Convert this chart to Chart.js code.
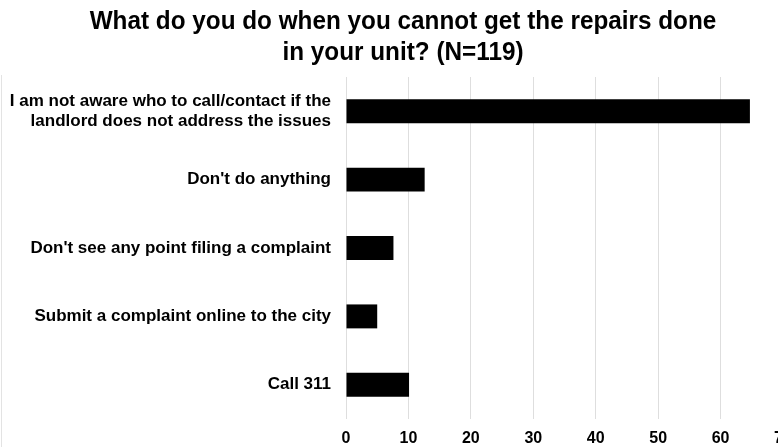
<!DOCTYPE html>
<html>
<head>
<meta charset="utf-8">
<script src="https://cdn.jsdelivr.net/npm/chart.js"></script>
<style>
  html, body { margin: 0; padding: 0; background: #fff; overflow: hidden; }
  #wrap { position: relative; width: 812px; height: 447px; }
  #title {
    position: absolute; left: 0; top: 5px; width: 806px;
    font: bold 26px/31px 'Liberation Sans', Arial, sans-serif;
    color: #000; text-align: center;
    transform: scaleX(0.935); transform-origin: 403px 0;
  }
  #edge { position: absolute; left: 1px; top: 75px; bottom: 0; border-left: 1px solid #e3e3e3; }
</style>
</head>
<body>
<div id="wrap">
  <div id="title">What do you do when you cannot get the repairs done<br>in your unit? (N=119)</div>
  <canvas id="repairChart" width="812" height="447"></canvas>
  <div id="edge"></div>
</div>
<script>
// answers, top to bottom
var answers = [
    ["I am not aware who to call/contact if the", "landlord does not address the issues"],
    "Don't do anything",
    "Don't see any point filing a complaint",
    "Submit a complaint online to the city",
    "Call 311"
];
// share of respondents (%), N=119
var shares = [64.7, 12.6, 7.6, 5.0, 10.1];
var xTicks = [0, 10, 20, 30, 40, 50, 60, 70];

var labelFont = "'Liberation Sans', Arial, sans-serif";

var ctx = document.getElementById("repairChart");
var repairChart = new Chart(ctx, {
    type: 'bar',
    data: {
        labels: answers,
        datasets: [{
            data: shares,
            backgroundColor: "#000",
            borderWidth: 0,
            categoryPercentage: 1,
            barPercentage: 0.35
        }]
    },
    options: {
        indexAxis: 'y',
        responsive: false,
        animation: false,
        layout: {
            padding: { left: 0, right: 29, top: 77, bottom: 0 }
        },
        plugins: {
            legend: { display: false },
            tooltip: { enabled: false },
            title: { display: false }
        },
        scales: {
            x: {
                min: 0,
                max: 70,
                afterBuildTicks: function(scale) {
                    scale.ticks = xTicks.map(function(v) { return { value: v }; });
                },
                afterFit: function(scale) { scale.height = 28; },
                grid: { color: "#dedede", drawTicks: false },
                border: { display: false },
                ticks: {
                    color: "#000",
                    padding: 10,
                    maxRotation: 0,
                    font: { family: labelFont, size: 16, weight: 'bold' }
                }
            },
            y: {
                afterFit: function(scale) {
                    scale.width = 346;
                    // keep the two-line label from pushing the plot area up
                    scale.paddingTop = 0;
                    scale.paddingBottom = 0;
                },
                grid: { display: false, drawTicks: false },
                border: { display: false },
                ticks: {
                    color: "#000",
                    padding: 15,
                    font: { family: labelFont, size: 17, weight: 'bold', lineHeight: 1.18 }
                }
            }
        }
    }
});
</script>
</body>
</html>
